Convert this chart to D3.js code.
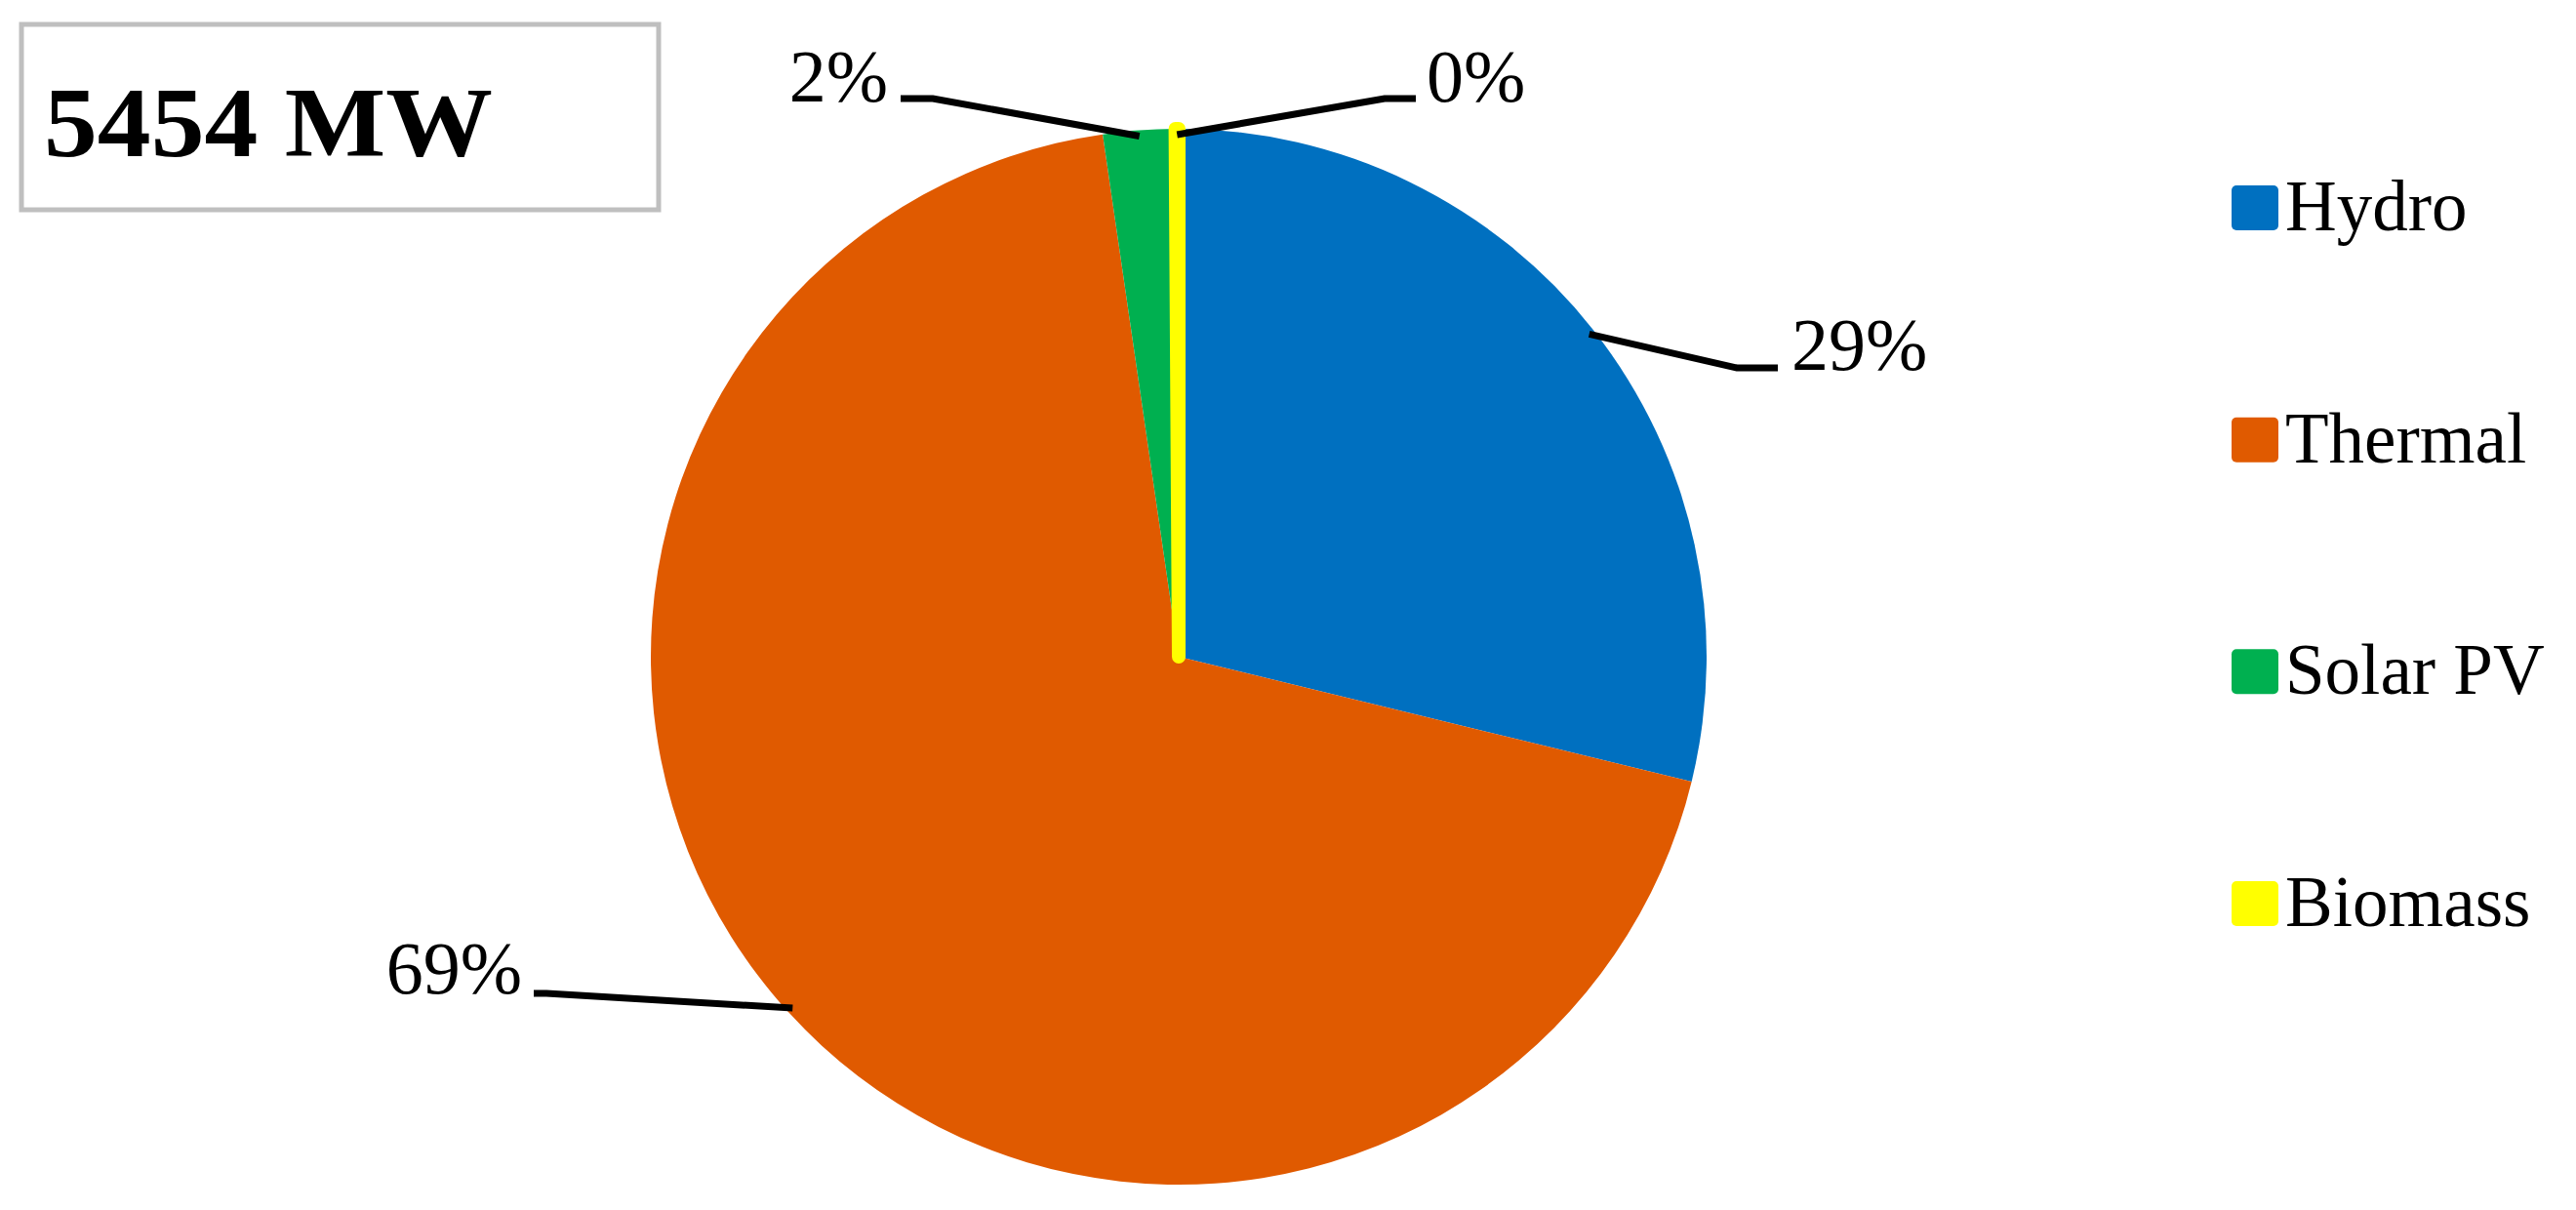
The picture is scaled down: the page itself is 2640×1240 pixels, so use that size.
<!DOCTYPE html>
<html>
<head>
<meta charset="utf-8">
<script src="https://cdn.jsdelivr.net/npm/d3@7"></script>
<style>
  html, body { margin: 0; padding: 0; background: #ffffff; }
  svg { display: block; }
  text { font-family: "Liberation Serif", "Times New Roman", serif; fill: #000; }
</style>
</head>
<body>
<svg id="chart" width="2640" height="1240"></svg>
<script>
// ---- data ----
const categories = ["Hydro", "Thermal", "Solar PV", "Biomass"];
const shares = [28.8, 68.9, 2.2, 0.1];          // percent of total capacity
const labels = ["29%", "69%", "2%", "0%"];
const colors = ["#0070C0", "#E05A00", "#00B050", "#FFFF00"];
const totalLabel = "5454 MW";

// ---- layout ----
const W = 2640, H = 1240;
const cx = 1208, cy = 673, R = 541;
// leader-line elbow / end and label anchor per slice
const labelLayout = [
  { elbow: [1780, 377], end: [1822, 377], text: [1836, 379], anchor: "start" },
  { elbow: [560, 1018], end: [547, 1018], text: [535, 1018], anchor: "end" },
  { elbow: [956, 101], end: [923, 101], text: [910, 104], anchor: "end" },
  { elbow: [1419, 101], end: [1451, 101], text: [1462, 104], anchor: "start" }
];

const svg = d3.select("#chart");
svg.append("rect").attr("width", W).attr("height", H).attr("fill", "#fff");

const pie = d3.pie().sort(null).value(d => d.v).startAngle(0).endAngle(2 * Math.PI);
const data = categories.map((c, i) => ({ c, v: shares[i], i }));
const arcs = pie(data);
const arc = d3.arc().innerRadius(0).outerRadius(R);
const color = d3.scaleOrdinal().domain(categories).range(colors);

const g = svg.append("g").attr("transform", `translate(${cx},${cy})`);
g.selectAll("path.slice").data(arcs).enter().append("path")
  .attr("class", "slice")
  .attr("d", arc)
  .attr("fill", d => color(d.data.c))
  .attr("stroke", d => color(d.data.c))
  .attr("stroke-width", d => d.data.c === "Biomass" ? 14 : 0)
  .attr("stroke-linejoin", "round");

// leader lines
arcs.forEach((d, i) => {
  const mid = (d.startAngle + d.endAngle) / 2;
  const p0 = [cx + (R - 6) * Math.sin(mid), cy - (R - 6) * Math.cos(mid)];
  const L = labelLayout[i];
  svg.append("path")
    .attr("d", d3.line()([p0, L.elbow, L.end]))
    .attr("fill", "none")
    .attr("stroke", "#000")
    .attr("stroke-width", 7);
  svg.append("text")
    .attr("x", L.text[0]).attr("y", L.text[1])
    .attr("text-anchor", L.anchor)
    .attr("font-size", 76)
    .text(labels[i]);
});

// title box
svg.append("rect")
  .attr("x", 22).attr("y", 25).attr("width", 653).attr("height", 190)
  .attr("fill", "#fff").attr("stroke", "#BFBFBF").attr("stroke-width", 5);
svg.append("text")
  .attr("x", 45).attr("y", 160)
  .attr("font-size", 102).attr("font-weight", "bold")
  .attr("textLength", 460).attr("lengthAdjust", "spacingAndGlyphs")
  .text(totalLabel);

// legend
const legendY = d3.scalePoint().domain(categories).range([213, 926]);
const lg = svg.append("g");
categories.forEach(c => {
  const y = legendY(c);
  lg.append("rect")
    .attr("x", 2287).attr("y", y - 23).attr("width", 48).attr("height", 46)
    .attr("rx", 5).attr("fill", color(c));
  lg.append("text")
    .attr("x", 2342).attr("y", y + 23)
    .attr("font-size", 73)
    .text(c);
});
</script>
</body>
</html>
